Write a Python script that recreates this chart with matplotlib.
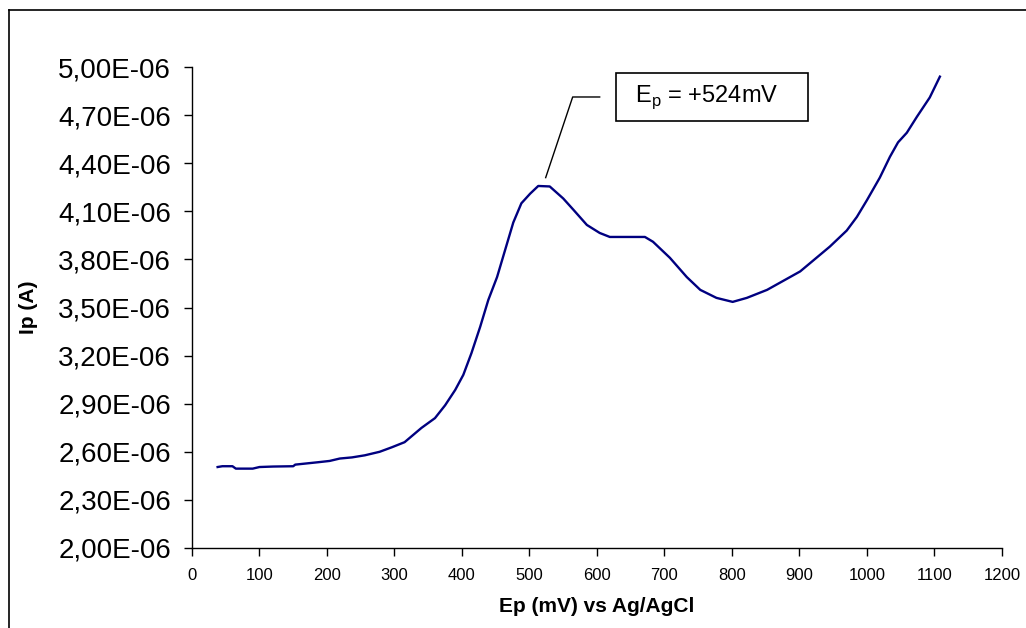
import numpy as np
import matplotlib
matplotlib.use("Agg")
import matplotlib.pyplot as plt
from matplotlib.ticker import FuncFormatter, MultipleLocator
from matplotlib.lines import Line2D
from matplotlib.patches import Rectangle

plt.rcParams['font.family'] = ['Liberation Sans', 'DejaVu Sans']

# potential (mV vs Ag/AgCl) and peak current (in 1e-6 A)
ep_mv = [38, 45, 60, 65, 75, 90, 100, 120, 150, 153, 187, 204, 219, 237,
         256, 278, 296, 315, 340, 360, 375, 390, 402, 414, 427, 439, 452,
         464, 476, 488, 501, 513, 530, 550, 565, 585, 604, 619, 671, 683,
         708, 733, 753, 777, 801, 822, 852, 901, 945, 970, 985, 1000, 1019,
         1034, 1046, 1059, 1074, 1093, 1108]
ip_ua = [2.505, 2.51, 2.51, 2.495, 2.495, 2.495, 2.505, 2.508, 2.51, 2.52,
         2.535, 2.543, 2.558, 2.565, 2.578, 2.60, 2.628, 2.66, 2.749, 2.81,
         2.89, 2.986, 3.08, 3.215, 3.38, 3.547, 3.69, 3.86, 4.03, 4.15,
         4.21, 4.258, 4.255, 4.18, 4.11, 4.015, 3.965, 3.94, 3.94, 3.91,
         3.81, 3.69, 3.61, 3.56, 3.535, 3.56, 3.61, 3.725, 3.88, 3.98,
         4.065, 4.17, 4.31, 4.44, 4.53, 4.59, 4.69, 4.81, 4.94]

y_ticks_ua = [2.0, 2.3, 2.6, 2.9, 3.2, 3.5, 3.8, 4.1, 4.4, 4.7, 5.0]

ep = np.array(ep_mv)
ip = np.array(ip_ua) * 1e-6

fig = plt.figure(figsize=(10.26, 6.28), dpi=100)
ax = fig.add_axes([0.1871, 0.1274, 0.7895, 0.7659])

ax.plot(ep, ip, color='#000080', lw=1.7)

ax.set_xlim(0, 1200)
ax.set_ylim(2.0e-6, 5.0e-6)
ax.xaxis.set_major_locator(MultipleLocator(100))
ax.set_yticks([v * 1e-6 for v in y_ticks_ua])
ax.yaxis.set_major_formatter(FuncFormatter(
    lambda v, p: ("%.2f" % (v * 1e6)).replace('.', ',') + "E-06"))

ax.spines['top'].set_visible(False)
ax.spines['right'].set_visible(False)
for s in ('left', 'bottom'):
    ax.spines[s].set_linewidth(1.0)
ax.tick_params(axis='y', direction='out', length=6, width=1, labelsize=20, pad=9)
ax.tick_params(axis='x', direction='out', length=5.5, width=1, labelsize=12, pad=9)

ax.set_xlabel("Ep (mV) vs Ag/AgCl", fontsize=15, fontweight='bold', labelpad=10)
ax.set_ylabel("Ip (A)", fontsize=15, fontweight='bold')
ax.yaxis.set_label_coords(-0.19, 0.5)

# leader line from the peak to the label box
ax.plot([524, 564, 604], [4.31e-6, 4.813e-6, 4.813e-6], color='black', lw=1.0,
        clip_on=False)
ax.add_patch(Rectangle((628, 4.664e-6), 285, 0.299e-6, fc='white',
                       ec='black', lw=1.2, clip_on=False, zorder=3))
ax.text(763, 4.813e-6, r"E$_\mathregular{p}$ = +524mV", fontsize=17,
        ha='center', va='center', zorder=4)

# outer chart frame (clipped on right and bottom)
fig.add_artist(Line2D([0.0088, 0.0088], [0.0, 0.984], color='black', lw=1.2,
                      transform=fig.transFigure))
fig.add_artist(Line2D([0.0088, 1.0], [0.984, 0.984], color='black', lw=1.2,
                      transform=fig.transFigure))

fig.savefig("out.png", dpi=100)
